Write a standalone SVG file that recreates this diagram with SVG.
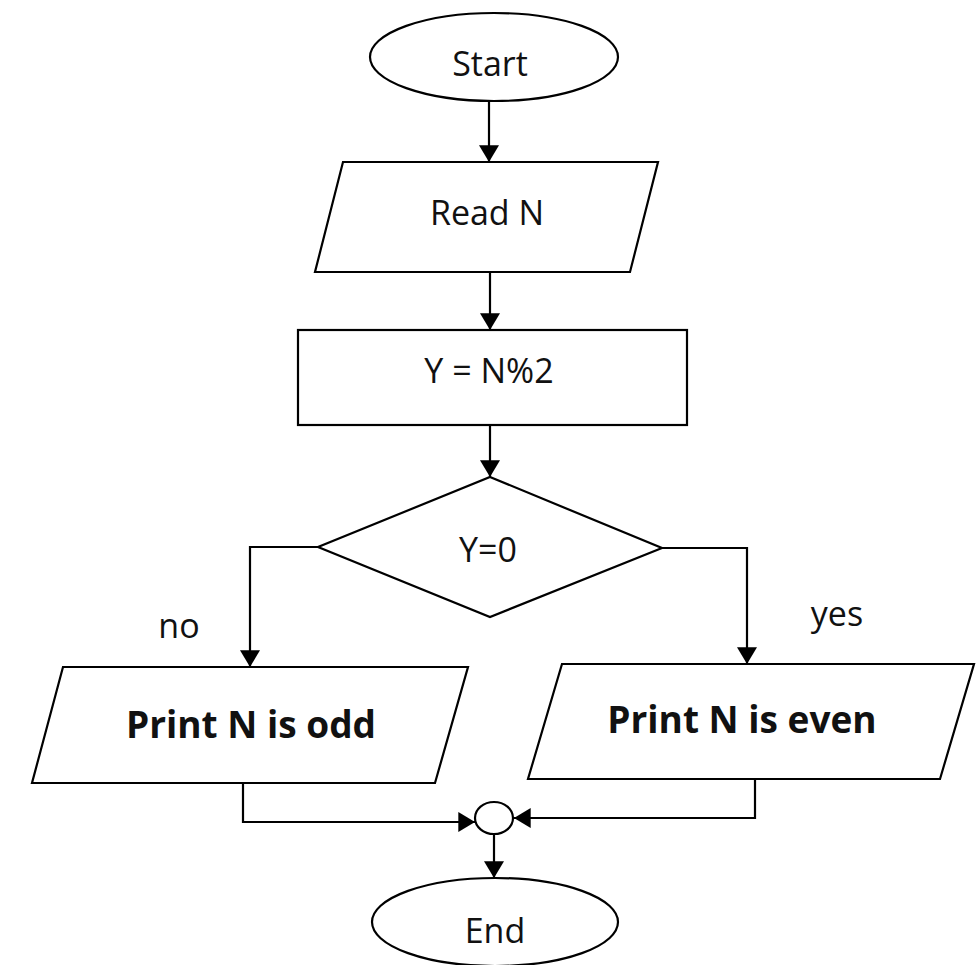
<svg xmlns="http://www.w3.org/2000/svg" width="980" height="965" viewBox="0 0 980 965">
<style>
  .shape { fill: #fff; stroke: #000; stroke-width: 2.2; }
  .conn { fill: none; stroke: #000; stroke-width: 2.2; }
  .lbl { font-family: "Open Sans", "Noto Sans", "DejaVu Sans", sans-serif; font-size: 34px; fill: #111; text-anchor: middle; }
  .bold { font-weight: bold; font-size: 37px; }
</style>
<defs>
  <marker id="arr" markerUnits="userSpaceOnUse" markerWidth="18" markerHeight="20" viewBox="0 0 16 18" refX="15" refY="9" orient="auto">
    <path d="M0,0 L15,9 L0,18 Z" fill="#000"/>
  </marker>
</defs>
<rect width="980" height="965" fill="#fff"/>

<g id="start">
  <ellipse class="shape" cx="494" cy="57" rx="124" ry="44"/>
  <text class="lbl" x="490" y="76">Start</text>
</g>
<g id="read">
  <polygon class="shape" points="343,162 658,162 630,272 315,272"/>
  <text class="lbl" x="487" y="225">Read N</text>
</g>
<g id="compute">
  <rect class="shape" x="298" y="330" width="389" height="95"/>
  <text class="lbl" x="489" y="383">Y = N%2</text>
</g>
<g id="decision">
  <polygon class="shape" points="490,477 662,548 490,617 318,547"/>
  <text class="lbl" x="488" y="562">Y=0</text>
</g>
<g id="odd">
  <polygon class="shape" points="63,667 468,667 435,783 32,783"/>
  <text class="lbl bold" x="251" y="738">Print N is odd</text>
</g>
<g id="even">
  <polygon class="shape" points="562,664 974,664 940,779 528,779"/>
  <text class="lbl bold" x="742" y="733">Print N is even</text>
</g>
<g id="join">
  <ellipse class="shape" cx="494" cy="818" rx="19" ry="16"/>
</g>
<g id="end">
  <ellipse class="shape" cx="495" cy="922" rx="123" ry="44"/>
  <text class="lbl" x="495" y="943">End</text>
</g>

<g id="connectors">
  <path class="conn" d="M489,101 L489,162" marker-end="url(#arr)"/>
  <path class="conn" d="M490,272 L490,330" marker-end="url(#arr)"/>
  <path class="conn" d="M490,425 L490,477" marker-end="url(#arr)"/>
  <path class="conn" d="M318,547 L250,547 L250,667" marker-end="url(#arr)"/>
  <path class="conn" d="M662,548 L747,548 L747,664" marker-end="url(#arr)"/>
  <path class="conn" d="M243,783 L243,822 L475,822" marker-end="url(#arr)"/>
  <path class="conn" d="M755,779 L755,818 L514,818" marker-end="url(#arr)"/>
  <path class="conn" d="M494,834 L494,878" marker-end="url(#arr)"/>
  <text class="lbl" x="179" y="638">no</text>
  <text class="lbl" x="837" y="626">yes</text>
</g>
</svg>
